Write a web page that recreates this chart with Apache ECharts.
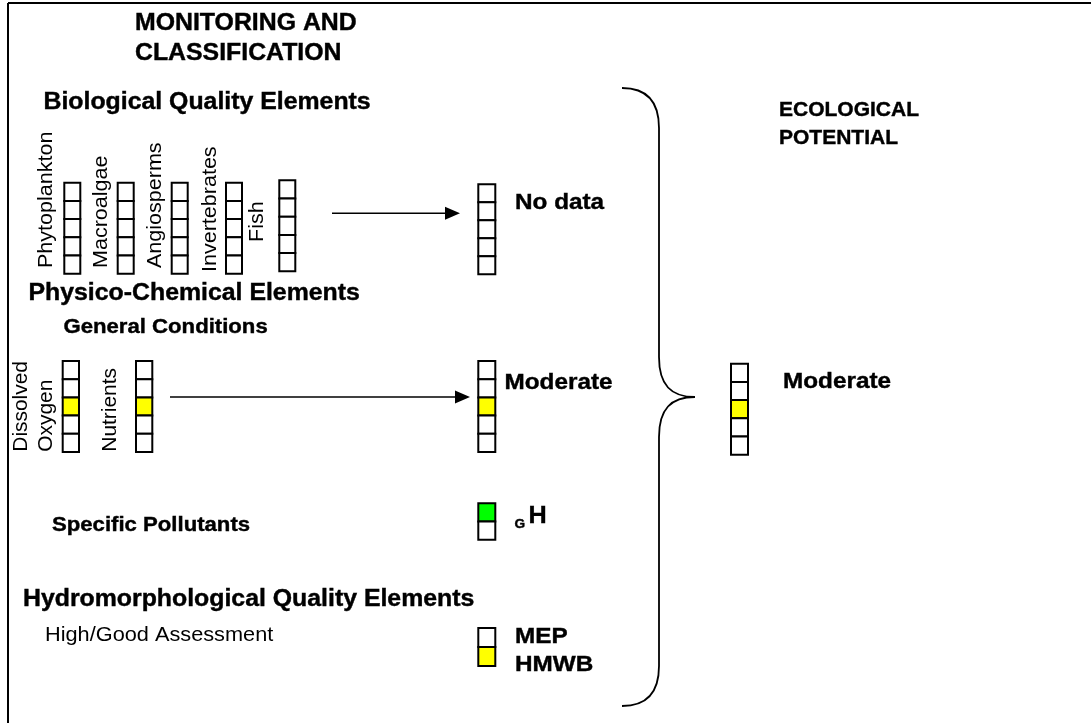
<!DOCTYPE html>
<html><head><meta charset="utf-8">
<script src="https://cdn.jsdelivr.net/npm/echarts@6/dist/echarts.min.js"></script>
<style>html,body{margin:0;padding:0;background:#fff;overflow:hidden}#c{width:1091px;height:723px}</style>
</head><body><div id="c"></div>
<script>
// ---------------- DATA ----------------
const classNames = ['High', 'Good', 'Moderate', 'Poor', 'Bad'];
const bioElements = ['Phytoplankton', 'Macroalgae', 'Angiosperms', 'Invertebrates', 'Fish'];
const bioStatus = [null, null, null, null, null];
const bioResultLabel = 'No data';
const bioResultStatus = null;
const pcElements = ['Dissolved Oxygen', 'Nutrients'];
const pcStatus = [2, 2];
const pcResultLabel = 'Moderate';
const pcResultStatus = 2;
const spClasses = ['High', 'Good'];
const spStatus = 0;
const hmClasses = ['MEP', 'HMWB'];
const hmStatus = 1;
const overallLabel = 'Moderate';
const overallStatus = 2;
const headings = ['MONITORING AND', 'CLASSIFICATION', 'Biological Quality Elements', 'Physico-Chemical Elements',
  'General Conditions', 'Specific Pollutants', 'Hydromorphological Quality Elements', 'High/Good Assessment',
  'ECOLOGICAL', 'POTENTIAL'];

// ---------------- STYLE / LAYOUT ----------------
const classColors = { High: '#00ff00', Good: '#00ff00', Moderate: '#ffff00', Poor: '#ff9900', Bad: '#ff0000', MEP: '#00ff00', HMWB: '#ffff00' };
const FONT = '"Liberation Sans", Arial, Helvetica, sans-serif';
const SX = 1.08; // horizontal stretch of the original lettering

const bioCols = { x: [64.3, 117.7, 171.7, 226, 279.3], top: [182.7, 182.7, 182.7, 182.7, 180.3], w: 16, h: 18.2 };
const bioLabelPos = [[46.3, 268], [101.2, 268], [155.8, 268], [210.8, 272], [257.5, 242]];
const pcCols = { x: [62.7, 136], top: [361, 361], w: 16.3, h: 18.2 };
const pcLabelPos = [[[21.7, 451.7], [46.7, 451.7]], [[110.8, 451.7]]];
const bioResultBox = { x: 478.3, top: 184.3, w: 17, h: 18 };
const pcResultBox = { x: 478.3, top: 361, w: 17, h: 18.2 };
const spBox = { x: 478.3, top: 503.3, w: 17, h: 18.2 };
const hmBox = { x: 478.3, top: 628, w: 17, h: 19 };
const overallBox = { x: 731, top: 363.7, w: 17, h: 18.2 };

const headingPos = [[135, 24, 23], [135, 54, 23], [43.5, 103, 23], [28.5, 293.5, 23], [63.5, 327, 20.5], [52, 525, 20.5],
  [23, 600, 23], [45, 635, 20.5, 'normal', 1.06], [779, 110, 21, 'bold', 1.0], [779, 138, 21, 'bold', 1.0]];

// ---------------- BUILD MARKS ----------------
const cells = [];
function addColumn(x, top, w, h, names, status) {
  names.forEach((n, i) => {
    cells.push({ x: x, y: top + i * h, w: w, h: h, fill: (status === i) ? classColors[n] : '#ffffff' });
  });
}
bioElements.forEach((e, i) => addColumn(bioCols.x[i], bioCols.top[i], bioCols.w, bioCols.h, classNames, bioStatus[i]));
pcElements.forEach((e, i) => addColumn(pcCols.x[i], pcCols.top[i], pcCols.w, pcCols.h, classNames, pcStatus[i]));
addColumn(bioResultBox.x, bioResultBox.top, bioResultBox.w, bioResultBox.h, classNames, bioResultStatus);
addColumn(pcResultBox.x, pcResultBox.top, pcResultBox.w, pcResultBox.h, classNames, pcResultStatus);
addColumn(spBox.x, spBox.top, spBox.w, spBox.h, spClasses, spStatus);
addColumn(hmBox.x, hmBox.top, hmBox.w, hmBox.h, hmClasses, hmStatus);
addColumn(overallBox.x, overallBox.top, overallBox.w, overallBox.h, classNames, overallStatus);

const texts = [];
headings.forEach((t, i) => {
  const p = headingPos[i];
  texts.push({ text: t, x: p[0], y: p[1], size: p[2], weight: p[3] || 'bold', sx: p[4] || SX, rot: 0 });
});
bioElements.forEach((t, i) => texts.push({ text: t, x: bioLabelPos[i][0], y: bioLabelPos[i][1], size: 20.5, weight: 'normal', sx: 1.05, rot: Math.PI / 2 }));
pcElements.forEach((t, i) => {
  const words = pcLabelPos[i].length > 1 ? t.split(' ') : [t];
  words.forEach((w, j) => texts.push({ text: w, x: pcLabelPos[i][j][0], y: pcLabelPos[i][j][1], size: 20.5, weight: 'normal', sx: 1.02, rot: Math.PI / 2 }));
});
texts.push({ text: bioResultLabel, x: 515, y: 203, size: 22.5, weight: 'bold', sx: SX, rot: 0 });
texts.push({ text: pcResultLabel, x: 504.5, y: 383, size: 22.5, weight: 'bold', sx: SX, rot: 0 });
texts.push({ text: 'G', x: 514.5, y: 524.5, size: 13, weight: 'bold', sx: 1.05, rot: 0 });
texts.push({ text: 'H', x: 528.5, y: 516, size: 24, weight: 'bold', sx: 1.05, rot: 0 });
texts.push({ text: hmClasses[0], x: 515, y: 637, size: 22.5, weight: 'bold', sx: SX, rot: 0 });
texts.push({ text: hmClasses[1], x: 515, y: 665, size: 22.5, weight: 'bold', sx: SX, rot: 0 });
texts.push({ text: overallLabel, x: 783, y: 382, size: 22.5, weight: 'bold', sx: SX, rot: 0 });

const arrows = [[332, 213.3, 460, 213.3], [170, 397, 470, 397]];
const frameLines = [[8, 3, 1091, 3], [8, 3, 8, 723]];
const brace = { tipX: 622, lineX: 659, pointX: 695, top: 88, mid: 397, bottom: 706, curve: 40 };

// ---------------- CHART ----------------
const chart = echarts.init(document.getElementById('c'), null, { renderer: 'canvas' });
const hiddenAxis = { show: false, splitLine: { show: false } };
chart.setOption({
  animation: false,
  backgroundColor: '#ffffff',
  grid: { left: 0, right: 0, top: 0, bottom: 0 },
  xAxis: Object.assign({ type: 'value', min: 0, max: 1091 }, hiddenAxis),
  yAxis: Object.assign({ type: 'value', min: 0, max: 723, inverse: true }, hiddenAxis),
  series: [
    {
      type: 'custom', silent: true, coordinateSystem: 'cartesian2d',
      data: frameLines,
      renderItem: (params, api) => {
        const a = api.coord([api.value(0), api.value(1)]), b = api.coord([api.value(2), api.value(3)]);
        return { type: 'line', shape: { x1: a[0], y1: a[1], x2: b[0], y2: b[1] }, style: { stroke: '#000', lineWidth: 2 } };
      }
    },
    {
      type: 'custom', silent: true, coordinateSystem: 'cartesian2d',
      data: cells.map(c => [c.x, c.y, c.w, c.h]),
      renderItem: (params, api) => {
        const p0 = api.coord([api.value(0), api.value(1)]);
        const p1 = api.coord([api.value(0) + api.value(2), api.value(1) + api.value(3)]);
        return { type: 'rect', shape: { x: p0[0], y: p0[1], width: p1[0] - p0[0], height: p1[1] - p0[1] },
          style: { fill: cells[params.dataIndex].fill, stroke: '#000', lineWidth: 2 } };
      }
    },
    {
      type: 'custom', silent: true, coordinateSystem: 'cartesian2d',
      data: arrows,
      renderItem: (params, api) => {
        const a = api.coord([api.value(0), api.value(1)]), b = api.coord([api.value(2), api.value(3)]);
        const hl = 15, hw = 6.5;
        return { type: 'group', children: [
          { type: 'line', shape: { x1: a[0], y1: a[1], x2: b[0] - hl + 2, y2: b[1] }, style: { stroke: '#000', lineWidth: 1.6 } },
          { type: 'polygon', shape: { points: [[b[0], b[1]], [b[0] - hl, b[1] - hw], [b[0] - hl, b[1] + hw]] }, style: { fill: '#000' } }
        ] };
      }
    },
    {
      type: 'custom', silent: true, coordinateSystem: 'cartesian2d',
      data: [[brace.tipX, brace.top]],
      renderItem: (params, api) => {
        const P = (x, y) => api.coord([x, y]);
        const b = brace, c = b.curve;
        const segs = [];
        const bez = (p1, c1, c2, p2) => segs.push({ type: 'bezierCurve', shape: { x1: p1[0], y1: p1[1], cpx1: c1[0], cpy1: c1[1], cpx2: c2[0], cpy2: c2[1], x2: p2[0], y2: p2[1] }, style: { stroke: '#000', lineWidth: 1.8, fill: null } });
        const ln = (p1, p2) => segs.push({ type: 'line', shape: { x1: p1[0], y1: p1[1], x2: p2[0], y2: p2[1] }, style: { stroke: '#000', lineWidth: 1.8 } });
        bez(P(b.tipX, b.top), P(b.tipX + 24, b.top), P(b.lineX, b.top + 12), P(b.lineX, b.top + c));
        ln(P(b.lineX, b.top + c), P(b.lineX, b.mid - c));
        bez(P(b.lineX, b.mid - c), P(b.lineX, b.mid - 12), P(b.pointX - 24, b.mid), P(b.pointX, b.mid));
        bez(P(b.pointX, b.mid), P(b.pointX - 24, b.mid), P(b.lineX, b.mid + 12), P(b.lineX, b.mid + c));
        ln(P(b.lineX, b.mid + c), P(b.lineX, b.bottom - c));
        bez(P(b.lineX, b.bottom - c), P(b.lineX, b.bottom - 12), P(b.tipX + 24, b.bottom), P(b.tipX, b.bottom));
        return { type: 'group', children: segs };
      }
    },
    {
      type: 'custom', silent: true, coordinateSystem: 'cartesian2d',
      data: texts.map(t => [t.x, t.y]),
      renderItem: (params, api) => {
        const t = texts[params.dataIndex];
        const p = api.coord([api.value(0), api.value(1)]);
        const bold = t.weight === 'bold';
        return { type: 'text', x: p[0], y: p[1], rotation: t.rot, scaleX: t.sx, scaleY: 1,
          style: { text: t.text, fill: '#000', fontSize: t.size, fontWeight: t.weight, fontFamily: FONT, align: 'left', verticalAlign: 'middle',
            stroke: bold ? '#000' : null, lineWidth: bold ? 0.4 : 0 } };
      }
    }
  ]
});
</script></body></html>
